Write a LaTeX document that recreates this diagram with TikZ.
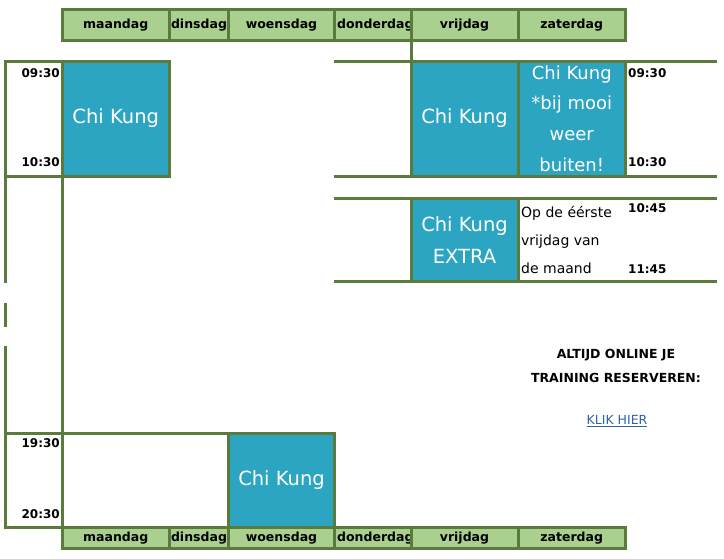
\documentclass[tikz,border=0pt]{standalone}
\usepackage{fontspec}
\setmainfont{DejaVu Sans}
\definecolor{grn}{HTML}{5B7B3D}
\definecolor{hfill}{HTML}{A9D08E}
\definecolor{tealbox}{HTML}{2CA5C2}
\definecolor{linkblue}{HTML}{2F64A8}
\begin{document}
\begin{tikzpicture}[x=1pt,y=-1pt,
  gline/.style={draw=grn, line width=3pt},
  hdr/.style={draw=grn, line width=3pt, fill=hfill, inner sep=0pt,
    font=\fontsize{12.5}{13}\selectfont\bfseries},
  hdrtext/.style={inner sep=0pt, font=\fontsize{12.5}{13}\selectfont\bfseries},
  ck/.style={draw=grn, line width=3pt, fill=tealbox, text=white, inner sep=0pt,
    align=center, font=\fontsize{19.5}{21}\selectfont},
  tcell/.style={draw=grn, line width=3pt, inner sep=0pt},
  tm/.style={inner sep=0pt, font=\fontsize{12}{13}\selectfont\bfseries},
  note/.style={inner sep=0pt, align=left, font=\fontsize{14}{28}\selectfont}]
\useasboundingbox (0,0) rectangle (724,558);
\fill[white] (0,0) rectangle (724,558);

% ---- free lines ----
\draw[gline] (411,40.5) -- (411,61);
\draw[gline] (334,61) -- (717,61);
\draw[gline] (334,176) -- (717,176);
\draw[gline] (334,198) -- (717,198);
\draw[gline] (334,281.5) -- (717,281.5);
\draw[gline] (5,176) -- (5,283);
\draw[gline] (5,303) -- (5,327);
\draw[gline] (5,346) -- (5,433);
\draw[gline] (62,176) -- (62,433);
\draw[gline] (62,433) -- (334.5,433);

% ---- top header ----
\node[hdr, minimum width=107.5pt, minimum height=31pt] (hma) at (115.75,25) {maandag};
\node[hdr, minimum width=59pt, minimum height=31pt] (hdi) at (199,25) {dinsdag};
\node[hdr, minimum width=106pt, minimum height=31pt] (hwo) at (281.5,25) {woensdag};
\node[hdr, minimum width=76.5pt, minimum height=31pt] (hdo) at (372.75,25) {};
\begin{scope}
\clip (336,12) rectangle (409.5,39);
\node[hdrtext, anchor=west] (hdot) at (337,25) {donderdag};
\end{scope}
\node[hdr, minimum width=107pt, minimum height=31pt] (hvr) at (464.5,25) {vrijdag};
\node[hdr, minimum width=107.5pt, minimum height=31pt] (hza) at (571.75,25) {zaterdag};

% ---- morning block ----
\node[tcell, minimum width=57pt, minimum height=115pt] (tmorn) at (33.5,118.5) {};
\node[ck, minimum width=107.5pt, minimum height=115pt] (ckma) at (115.75,118.5) {Chi Kung};
\node[ck, minimum width=107pt, minimum height=115pt] (ckvr) at (464.5,118.5) {Chi Kung};
\node[ck, minimum width=107.5pt, minimum height=115pt, font=\fontsize{18}{30.7}\selectfont] (ckza) at (571.75,118.5) {Chi Kung\\*bij mooi\\weer\\buiten!};
\node[tm, anchor=east] (t1) at (60,73) {09:30};
\node[tm, anchor=east] (t2) at (60,162) {10:30};
\node[tm, anchor=west] (t3) at (628,73) {09:30};
\node[tm, anchor=west] (t4) at (628,162) {10:30};

% ---- extra block ----
\node[ck, minimum width=107pt, minimum height=83.5pt, font=\fontsize{19.5}{32}\selectfont] (ckex) at (464.5,239.75) {Chi Kung\\EXTRA};
\node[note, anchor=west] (nt) at (521,240) {Op de éérste\\vrijdag van\\de maand};
\node[tm, anchor=west] (t5) at (628,208) {10:45};
\node[tm, anchor=west] (t6) at (628,269) {11:45};

% ---- evening block ----
\node[tcell, minimum width=57pt, minimum height=94pt] (teve) at (33.5,480) {};
\node[ck, minimum width=106pt, minimum height=94pt] (ckwo) at (281.5,480) {Chi Kung};
\node[tm, anchor=east] (t7) at (60,443) {19:30};
\node[tm, anchor=east] (t8) at (60,514) {20:30};

% ---- bottom header ----
\node[hdr, minimum width=107.5pt, minimum height=21.5pt] (bma) at (115.75,537.75) {maandag};
\node[hdr, minimum width=59pt, minimum height=21.5pt] (bdi) at (199,537.75) {dinsdag};
\node[hdr, minimum width=106pt, minimum height=21.5pt] (bwo) at (281.5,537.75) {woensdag};
\node[hdr, minimum width=76.5pt, minimum height=21.5pt] (bdo) at (372.75,537.75) {};
\begin{scope}
\clip (336,529) rectangle (409.5,547);
\node[hdrtext, anchor=west] (bdot) at (337,537.75) {donderdag};
\end{scope}
\node[hdr, minimum width=107pt, minimum height=21.5pt] (bvr) at (464.5,537.75) {vrijdag};
\node[hdr, minimum width=107.5pt, minimum height=21.5pt] (bza) at (571.75,537.75) {zaterdag};

% ---- online text ----
\node[inner sep=0pt, align=center, font=\fontsize{12.5}{24}\selectfont\bfseries] (online) at (616,366) {ALTIJD ONLINE JE\\TRAINING RESERVEREN:};
\node[inner sep=0pt, text=linkblue, font=\fontsize{12.5}{13}\selectfont] (klik) at (617,421) {\underline{KLIK HIER}};
\end{tikzpicture}
\end{document}
